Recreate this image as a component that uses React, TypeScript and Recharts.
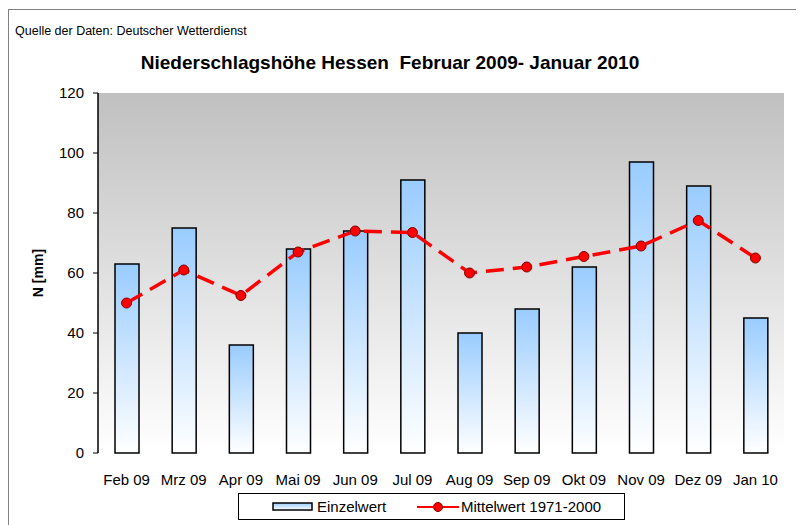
import React from 'react';
import {
  ComposedChart,
  Bar,
  Line,
  XAxis,
  YAxis,
  CartesianGrid,
  Legend,
  Label,
} from 'recharts';

const months = ['Feb 09', 'Mrz 09', 'Apr 09', 'Mai 09', 'Jun 09', 'Jul 09', 'Aug 09', 'Sep 09', 'Okt 09', 'Nov 09', 'Dez 09', 'Jan 10'];
const einzelwert = [63, 75, 36, 68, 74, 91, 40, 48, 62, 97, 89, 45];
const mittelwert = [50, 61, 52.5, 67, 74, 73.5, 60, 62, 65.5, 69, 77.5, 65];
const yTicks = [0, 20, 40, 60, 80, 100, 120];
const boundaryTicks = [0, 1, 2, 3, 4, 5, 6, 7, 8, 9, 10, 11, 12];

const data = months.map((m, i) => ({ month: m, einzelwert: einzelwert[i], mittelwert: mittelwert[i] }));

const font = 'Arial, "Liberation Sans", sans-serif';

function LegendBox() {
  return (
    <div
      style={{
        position: 'relative',
        width: 387,
        height: 27,
        border: '1px solid #000',
        boxSizing: 'border-box',
        background: '#fff',
        fontFamily: font,
        fontSize: 15,
        color: '#000',
      }}
    >
      <svg width={42} height={10} style={{ position: 'absolute', left: 33, top: 8 }}>
        <rect x={1} y={1} width={39} height={7} fill="url(#barGrad)" stroke="#000" strokeWidth={1.5} />
      </svg>
      <span style={{ position: 'absolute', left: 78, top: 4, lineHeight: '17px' }}>Einzelwert</span>
      <svg width={44} height={12} style={{ position: 'absolute', left: 177, top: 7 }}>
        <line x1={1} y1={6} x2={43} y2={6} stroke="#ff0000" strokeWidth={2} />
        <circle cx={22} cy={6} r={4.5} fill="#ff0000" stroke="#800000" strokeWidth={1} />
      </svg>
      <span style={{ position: 'absolute', left: 222, top: 4, lineHeight: '17px' }}>Mittelwert 1971-2000</span>
    </div>
  );
}

export default function App() {
  return (
    <div
      style={{
        position: 'relative',
        width: 790,
        height: 520,
        marginTop: 1,
        border: '1px solid #808080',
        borderRightWidth: 2,
        background: '#fff',
        fontFamily: font,
      }}
    >
      <div style={{ position: 'absolute', left: 6, top: 14, fontSize: 12.5, color: '#000', lineHeight: '15px' }}>
        Quelle der Daten: Deutscher Wetterdienst
      </div>
      <div
        style={{
          position: 'absolute',
          left: 0,
          width: 762,
          top: 42,
          textAlign: 'center',
          fontSize: 19,
          fontWeight: 'bold',
          lineHeight: '22px',
          whiteSpace: 'pre',
          color: '#000',
        }}
      >
        {'Niederschlagshöhe Hessen  Februar 2009- Januar 2010'}
      </div>
      <ComposedChart
        width={790}
        height={520}
        data={data}
        margin={{ top: 83, right: 15, bottom: 20, left: 34 }}
        style={{ position: 'absolute', left: 0, top: 0 }}
      >
        <defs>
          <linearGradient id="bgGrad" x1="0" y1="0" x2="0" y2="1">
            <stop offset="0%" stopColor="#c0c0c0" />
            <stop offset="100%" stopColor="#ffffff" />
          </linearGradient>
          <linearGradient id="barGrad" x1="0" y1="0" x2="0" y2="1">
            <stop offset="0%" stopColor="#99ccff" />
            <stop offset="100%" stopColor="#ffffff" />
          </linearGradient>
        </defs>
        <CartesianGrid horizontal={false} vertical={false} fill="url(#bgGrad)" />
        <XAxis
          xAxisId="g"
          type="number"
          domain={[0, 12]}
          ticks={boundaryTicks}
          height={0}
          tickFormatter={() => ''}
          tickSize={5}
          axisLine={{ stroke: '#000', strokeWidth: 1.5 }}
          tickLine={{ stroke: '#000' }}
        />
        <XAxis
          dataKey="month"
          height={30}
          axisLine={false}
          tickLine={false}
          tickMargin={15}
          interval={0}
          tick={{ fill: '#000', fontSize: 15, fontFamily: font }}
        />
        <XAxis xAxisId="top" orientation="top" height={0} tick={false} axisLine={{ stroke: '#808080', strokeWidth: 2 }} />
        <YAxis
          domain={[0, 120]}
          ticks={yTicks}
          width={55}
          tickSize={5}
          tickMargin={9}
          axisLine={{ stroke: '#000', strokeWidth: 1.5 }}
          tickLine={{ stroke: '#000' }}
          tick={{ fill: '#000', fontSize: 15, fontFamily: font }}
        >
          <Label
            content={() => (
              <text
                x={29}
                y={263}
                transform="rotate(-90 29 263)"
                textAnchor="middle"
                dominantBaseline="central"
                fontSize={14}
                fontWeight="bold"
                fontFamily={font}
                fill="#000"
              >
                N [mm]
              </text>
            )}
          />
        </YAxis>
        <YAxis yAxisId="r" orientation="right" width={0} tick={false} domain={[0, 120]} axisLine={{ stroke: '#808080', strokeWidth: 2 }} />
        <Bar
          dataKey="einzelwert"
          barSize={24}
          fill="url(#barGrad)"
          stroke="#000"
          strokeWidth={1.5}
          isAnimationActive={false}
        />
        <Line
          dataKey="mittelwert"
          stroke="#ff0000"
          strokeWidth={3.5}
          strokeDasharray="18 9"
          isAnimationActive={false}
          dot={(p: any) => (
            <circle key={`dot-${p.index}`} cx={p.cx} cy={p.cy} r={5} fill="#ff0000" stroke="#800000" strokeWidth={1} />
          )}
          activeDot={false}
        />
        <Legend
          verticalAlign="bottom"
          content={() => <LegendBox />}
          wrapperStyle={{ left: 229, bottom: 10, width: 387 }}
        />
      </ComposedChart>
    </div>
  );
}
